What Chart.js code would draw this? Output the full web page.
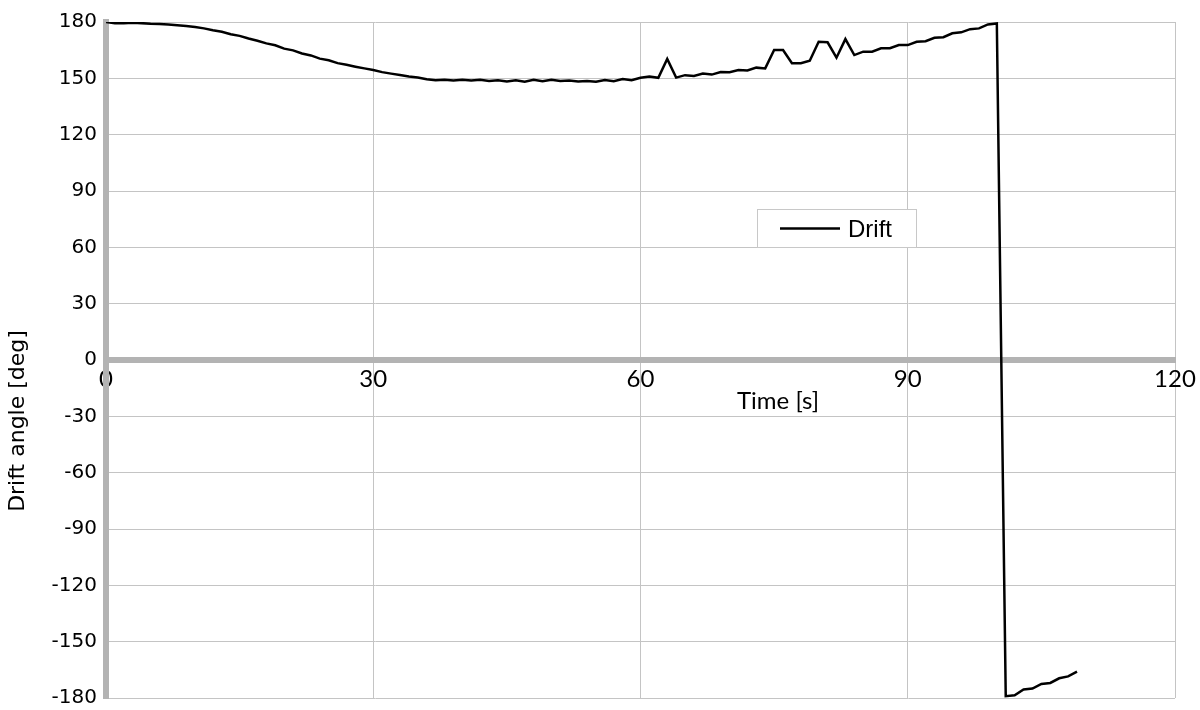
<!DOCTYPE html>
<html>
<head>
<meta charset="utf-8">
<script src="https://cdn.jsdelivr.net/npm/chart.js@4.4.1/dist/chart.umd.min.js"></script>
<style>
  html, body { margin: 0; padding: 0; background: #fff; }
  #wrap { width: 1200px; height: 710px; }
</style>
</head>
<body>
<div id="wrap"><canvas id="myChart" width="1200" height="710"></canvas></div>
<script>
// time in seconds, one sample per second
const time = [
  0, 1, 2, 3, 4, 5, 6, 7, 8, 9,
  10, 11, 12, 13, 14, 15, 16, 17, 18, 19,
  20, 21, 22, 23, 24, 25, 26, 27, 28, 29,
  30, 31, 32, 33, 34, 35, 36, 37, 38, 39,
  40, 41, 42, 43, 44, 45, 46, 47, 48, 49,
  50, 51, 52, 53, 54, 55, 56, 57, 58, 59,
  60, 61, 62, 63, 64, 65, 66, 67, 68, 69,
  70, 71, 72, 73, 74, 75, 76, 77, 78, 79,
  80, 81, 82, 83, 84, 85, 86, 87, 88, 89,
  90, 91, 92, 93, 94, 95, 96, 97, 98, 99,
  100, 101, 102, 103, 104, 105, 106, 107, 108, 109
]

// drift angle in degrees
const drift = [
  180, 179.4, 179.4, 179.6, 179.4, 179.1, 179.0, 178.7, 178.3, 177.9,
  177.3, 176.6, 175.6, 174.8, 173.5, 172.6, 171.2, 170.0, 168.6, 167.6,
  165.8, 164.9, 163.2, 162.2, 160.5, 159.6, 158.1, 157.2, 156.2, 155.3,
  154.4, 153.3, 152.5, 151.8, 151.0, 150.4, 149.5, 149.0, 149.3, 148.8,
  149.3, 148.9, 149.2, 148.6, 149.0, 148.3, 149.0, 148.2, 149.2, 148.4,
  149.3, 148.6, 148.8, 148.3, 148.6, 148.2, 149.1, 148.5, 149.6, 149.0,
  150.3, 151.0, 150.3, 160.3, 150.4, 151.7, 151.3, 152.6, 152.0, 153.4,
  153.2, 154.4, 154.2, 155.7, 155.3, 165.1, 165.1, 158.0, 158.0, 159.4,
  169.5, 169.2, 161.0, 170.9, 162.4, 164.2, 164.2, 166.0, 166.0, 167.7,
  167.7, 169.5, 169.8, 171.6, 171.9, 174.0, 174.5, 176.2, 176.6, 178.7,
  179.2, -179.0, -178.5, -175.5, -175.0, -172.5, -172.0, -169.5, -168.5, -166.0
]

const xTicks = [0, 30, 60, 90, 120]
const yTicks = [-180, -150, -120, -90, -60, -30, 0, 30, 60, 90, 120, 150, 180]

const seriesName = 'Drift'
const xTitle = 'Time [s]'
const yTitle = 'Drift angle [deg]'

const gridColor = '#c4c4c4'
const axisColor = '#b3b3b3'

// axis titles and the floating legend box
const extras = {
    id: 'extras',
    afterDraw(chart) {
        const ctx = chart.ctx
        ctx.save()
        ctx.fillStyle = '#000'
        ctx.textAlign = 'center'
        ctx.textBaseline = 'middle'

        ctx.font = '24px Lato'
        ctx.fillText(xTitle, 778, 401)

        ctx.save()
        ctx.translate(18, 421)
        ctx.rotate(-Math.PI / 2)
        ctx.font = '22px "DejaVu Sans"'
        ctx.fillText(yTitle, 0, 0)
        ctx.restore()

        // legend
        ctx.fillStyle = '#fff'
        ctx.fillRect(757, 209, 160, 39)
        ctx.strokeStyle = '#c8c8c8'
        ctx.lineWidth = 1
        ctx.strokeRect(757.5, 209.5, 159, 38)
        ctx.strokeStyle = '#000'
        ctx.lineWidth = 2.5
        ctx.beginPath()
        ctx.moveTo(780, 228.5)
        ctx.lineTo(840, 228.5)
        ctx.stroke()
        ctx.fillStyle = '#000'
        ctx.textAlign = 'left'
        ctx.font = '24px "Liberation Sans"'
        ctx.fillText(chart.data.datasets[0].label, 848, 230)
        ctx.restore()
    }
}

// keep tick label overhang from shrinking the plot area
const noPad = (s) => {
    s.paddingTop = 0
    s.paddingBottom = 0
    s.paddingLeft = 0
    s.paddingRight = 0
}

const ctx = document.getElementById('myChart')
const myChart = new Chart(ctx, {
    type: 'line',
    data: {
        datasets: [{
            label: seriesName,
            data: time.map((t, i) => ({ x: t, y: drift[i] })),
            borderColor: '#000',
            borderWidth: 2.5,
            pointRadius: 0,
            tension: 0,
            fill: false
        }]
    },
    options: {
        responsive: false,
        animation: false,
        devicePixelRatio: 1,
        layout: { padding: { left: 0, right: 25, top: 22, bottom: 12 } },
        plugins: {
            legend: { display: false },
            tooltip: { enabled: false }
        },
        scales: {
            x: {
                type: 'linear',
                position: { y: 0 },
                min: 0,
                max: 120,
                afterBuildTicks: (s) => { s.ticks = xTicks.map((v) => ({ value: v })) },
                afterFit: noPad,
                ticks: {
                    color: '#000',
                    font: { family: 'Lato', size: 24 },
                    padding: 5,
                    maxRotation: 0
                },
                grid: { color: gridColor, lineWidth: 1, drawTicks: false },
                border: { color: axisColor, width: 6 }
            },
            y: {
                type: 'linear',
                position: 'left',
                min: -180,
                max: 180,
                afterBuildTicks: (s) => { s.ticks = yTicks.map((v) => ({ value: v })) },
                afterFit: (s) => { s.width = 106; noPad(s) },
                ticks: {
                    color: '#000',
                    font: { family: 'DejaVu Sans', size: 20 },
                    padding: 9
                },
                grid: { color: gridColor, lineWidth: 1, drawTicks: false },
                border: { color: axisColor, width: 6 }
            }
        }
    },
    plugins: [extras]
})
</script>
</body>
</html>
